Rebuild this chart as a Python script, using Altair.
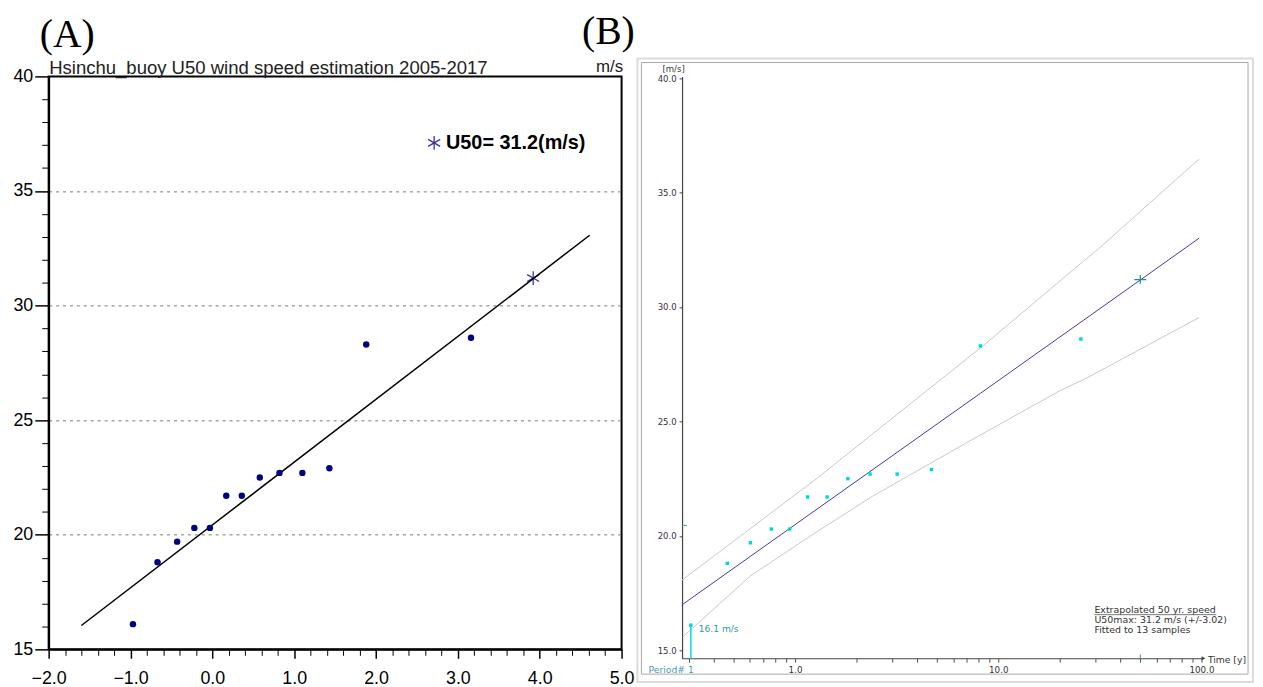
import altair as alt
import pandas as pd

# ---------------- Panel A: Gumbel reduced variate vs annual maximum ----------------
reduced_variate = [-0.97, -0.67, -0.43, -0.22, -0.03, 0.17, 0.36, 0.58, 0.82, 1.10, 1.43, 1.88, 3.16]
annual_max_speed = [16.1, 18.8, 19.7, 20.3, 20.3, 21.7, 21.7, 22.5, 22.7, 22.7, 22.9, 28.3, 28.6]
fit_a_variate = [-1.60, 4.61]
fit_a_speed = [16.04, 33.07]
u50_variate = [3.92]
u50_speed = [31.2]
legend_variate = [2.71]
legend_speed = [37.1]
legend_label = ["U50= 31.2(m/s)"]
a_title = "Hsinchu_buoy U50 wind speed estimation 2005-2017"
a_major_x = [-2, -1, 0, 1, 2, 3, 4, 5]
a_minor_x = [-1.8, -1.6, -1.4, -1.2, -0.8, -0.6, -0.4, -0.2, 0.2, 0.4, 0.6, 0.8,
             1.2, 1.4, 1.6, 1.8, 2.2, 2.4, 2.6, 2.8, 3.2, 3.4, 3.6, 3.8, 4.2, 4.4, 4.6, 4.8]
a_major_y = [15, 20, 25, 30, 35, 40]
a_minor_y = [16, 17, 18, 19, 21, 22, 23, 24, 26, 27, 28, 29, 31, 32, 33, 34, 36, 37, 38, 39]
a_grid_y = [20, 25, 30, 35]

# ---------------- Panel B: return period (log) vs speed ----------------
return_period = [0.307, 0.464, 0.603, 0.764, 0.942, 1.153, 1.438, 1.820, 2.340, 3.180, 4.69, 8.17, 25.5]
fit_b_period = [0.277, 1.25, 8.17, 50.0, 97.5]
fit_b_speed = [16.98, 21.10, 26.23, 31.18, 33.01]
upper_period = [0.277, 1.25, 8.17, 23.2, 31.1, 97.5]
upper_speed = [18.06, 22.44, 28.21, 31.60, 32.54, 36.47]
lower_period = [0.280, 0.603, 1.25, 2.38, 7.55, 20.0, 27.4, 97.5]
lower_speed = [15.58, 18.25, 20.12, 21.71, 24.24, 26.33, 26.91, 29.54]
u50_period = [50.0]
mean_speed_marker = [20.46]
axis_end_period = [100.0]
b_ticks_x = [0.3, 0.4, 0.5, 0.6, 0.7, 0.8, 0.9, 1, 2, 3, 4, 5, 6, 7, 8, 9,
             10, 20, 30, 40, 50, 60, 70, 80, 90, 100]
b_ticks_y = [15, 20, 25, 30, 35, 40]
period_label = ["Period# 1"]
min_label = ["16.1 m/s"]
info_text = "Extrapolated 50 yr. speed\nU50max: 31.2 m/s (+/-3.02)\nFitted to 13 samples"

ASTER = "M0,-1L0,1M-0.87,-0.5L0.87,0.5M-0.87,0.5L0.87,-0.5"
CROSS = "M-1,0L1,0M0,-0.7L0,0.7"
FA = "Liberation Sans"
FB = "DejaVu Sans"

# ======================= PANEL A =======================
WA, HA = 578, 578
xa = alt.Scale(domain=[-2, 5], nice=False, zero=False)
ya = alt.Scale(domain=[15, 40], nice=False, zero=False)

df_pts = pd.DataFrame({"u": reduced_variate, "speed": annual_max_speed})
df_fit_a = pd.DataFrame({"u": fit_a_variate, "speed": fit_a_speed})
df_u50 = pd.DataFrame({"u": u50_variate, "speed": u50_speed})
df_leg = pd.DataFrame({"u": legend_variate, "speed": legend_speed, "label": legend_label})

x_major = alt.Axis(orient="bottom", values=a_major_x, format=".1f", labelFont=FA, labelFontSize=18,
                   labelColor="black", tickSize=9, tickWidth=1.5, tickColor="black",
                   domainColor="black", domainWidth=2, labelPadding=11, grid=False, title=None,
                   labelFlush=False, labelOverlap=False)
x_minor = alt.Axis(orient="bottom", values=a_minor_x, labels=False, tickSize=6, tickWidth=1,
                   tickColor="black", domain=False, grid=False, title=None)
y_major = alt.Axis(orient="left", values=a_major_y, format="d", labelFont=FA, labelFontSize=18,
                   labelColor="black", tickSize=14, tickWidth=1.5, tickColor="black",
                   domainColor="black", domainWidth=2, labelPadding=2, grid=False,
                   labelFlush=False, labelOverlap=False,
                   title="m/s", titleAngle=0, titleX=579, titleY=-10, titleAlign="right",
                   titleBaseline="middle", titleFont=FA, titleFontSize=17, titleFontWeight="normal",
                   titleColor="#222")
y_minor = alt.Axis(orient="left", values=a_minor_y, labels=False, tickSize=7, tickWidth=1,
                   tickColor="black", domain=False, grid=False, title=None)
y_grid = alt.Axis(orient="left", values=a_grid_y, labels=False, ticks=False, domain=False,
                  grid=True, gridDash=[3, 4], gridColor="#777777", gridWidth=1, title=None)
x_top = alt.Axis(orient="top", labels=False, ticks=False, domain=False, grid=False,
                 title=a_title, titleX=0, titleY=-3, titleAlign="left", titleBaseline="alphabetic",
                 titleFont=FA, titleFontSize=18.7, titleFontWeight="normal", titleColor="#222")

grid_a = alt.Chart(df_u50).mark_point(shape=ASTER, size=196, filled=False, color="#3535a5",
                                      strokeWidth=1.3, opacity=1).encode(
    x=alt.X("u:Q", scale=xa, axis=x_top),
    y=alt.Y("speed:Q", scale=ya, axis=y_grid),
)
line_a = alt.Chart(df_fit_a).mark_line(color="black", strokeWidth=1.5).encode(
    x=alt.X("u:Q", scale=xa, axis=x_minor),
    y=alt.Y("speed:Q", scale=ya, axis=y_minor),
)
pts_a = alt.Chart(df_pts).mark_circle(size=42, color="#000080", opacity=1).encode(
    x=alt.X("u:Q", scale=xa, axis=x_major),
    y=alt.Y("speed:Q", scale=ya, axis=y_major),
)
leg_star = alt.Chart(df_leg).mark_point(shape=ASTER, size=196, filled=False, color="#3535a5",
                                        strokeWidth=1.3, opacity=1).encode(
    x=alt.X("u:Q", scale=xa, axis=None),
    y=alt.Y("speed:Q", scale=ya, axis=None),
)
leg_text = alt.Chart(df_leg).mark_text(align="left", baseline="middle", dx=12, font=FA, fontSize=20,
                                       fontWeight="bold", color="black").encode(
    x=alt.X("u:Q", scale=xa, axis=None),
    y=alt.Y("speed:Q", scale=ya, axis=None),
    text="label:N",
)

panel_a = alt.layer(grid_a, line_a, pts_a, leg_star, leg_text).resolve_axis(
    x="independent", y="independent"
).properties(
    width=WA, height=HA,
    view=alt.ViewBackground(stroke="black", strokeWidth=2),
    title=alt.TitleParams("(A)", anchor="start", frame="group", dx=-9, font="Liberation Serif",
                          fontSize=40, fontWeight="normal", color="black", offset=2.5),
)

# ======================= PANEL B =======================
WB, HB = 524, 587
xb = alt.Scale(type="log", domain=[0.278, 100], nice=False)
yb = alt.Scale(domain=[14.654, 40.074], nice=False, zero=False)

df_b_pts = pd.DataFrame({"T": return_period, "speed": annual_max_speed})
df_fit_b = pd.DataFrame({"T": fit_b_period, "speed": fit_b_speed})
df_up = pd.DataFrame({"T": upper_period, "speed": upper_speed})
df_lo = pd.DataFrame({"T": lower_period, "speed": lower_speed})
df_cross = pd.DataFrame({"T": u50_period, "speed": u50_speed})
df_first = pd.DataFrame({"T": return_period[:1], "speed": annual_max_speed[:1],
                         "lab": min_label, "per": period_label})
df_mean = pd.DataFrame({"speed": mean_speed_marker})
df_end = pd.DataFrame({"T": axis_end_period})
df_one = pd.DataFrame({"info": [info_text]})

xb_axis = alt.Axis(orient="bottom", values=b_ticks_x,
                   labelExpr="indexof([1, 10, 100], datum.value) >= 0 ? format(datum.value, '.1f') : ''",
                   tickSize=4, tickColor="#555555", domainColor="#444444", domainWidth=1.2,
                   labelFont=FB, labelFontSize=8.8, labelColor="#333333", labelPadding=3,
                   grid=False, labelFlush=False, labelOverlap=False,
                   title="Time [y]", titleX=530, titleY=1, titleAlign="left", titleBaseline="middle",
                   titleFont=FB, titleFontSize=9.3, titleFontWeight="normal", titleColor="#333333")
yb_axis = alt.Axis(orient="left", values=b_ticks_y, format=".1f", tickSize=3, tickColor="#444444",
                   domainColor="#444444", domainWidth=1.2, labelFont=FB, labelFontSize=8.6,
                   labelColor="#3a3048", labelPadding=3, grid=False, labelFlush=False,
                   labelOverlap=False,
                   title="[m/s]", titleAngle=0, titleX=-9, titleY=-8, titleAlign="center",
                   titleBaseline="middle", titleFont=FB, titleFontSize=8.6, titleFontWeight="normal",
                   titleColor="#333333")

XB = alt.X("T:Q", scale=xb, axis=xb_axis)
YB = alt.Y("speed:Q", scale=yb, axis=yb_axis)

fit_b = alt.Chart(df_fit_b).mark_line(color="#3c3ca8", strokeWidth=1).encode(x=XB, y=YB)
up_b = alt.Chart(df_up).mark_line(color="#c8c8c8", strokeWidth=1).encode(x=XB, y=YB)
lo_b = alt.Chart(df_lo).mark_line(color="#c8c8c8", strokeWidth=1).encode(x=XB, y=YB)
first_rule = alt.Chart(df_first).mark_rule(color="#00e0ea", strokeWidth=1.5).encode(
    x=XB, y=YB, y2=alt.value(HB))
pts_b = alt.Chart(df_b_pts).mark_square(size=12, color="#00d6e0", opacity=1).encode(x=XB, y=YB)
cross_b = alt.Chart(df_cross).mark_point(shape=CROSS, size=144, filled=False, color="#2a8a9a",
                                         strokeWidth=1.3, opacity=1).encode(x=XB, y=YB)
min_text = alt.Chart(df_first).mark_text(align="left", baseline="middle", dx=8, dy=4, font=FB,
                                         fontSize=9.2, color="#2a9aaa").encode(
    x=XB, y=YB, text="lab:N")
per_text = alt.Chart(df_first).mark_text(align="right", baseline="middle", dx=3, font=FB,
                                         fontSize=9.3, color="#4a9ab5").encode(
    x=XB, y=alt.value(HB + 12), text="per:N")
mean_tick = alt.Chart(df_mean).mark_rule(color="#3a9aa0", strokeWidth=1).encode(
    y=YB, x=alt.value(0), x2=alt.value(5))
u50_tick = alt.Chart(df_cross).mark_rule(color="#3a9aa0", strokeWidth=1).encode(
    x=XB, y=alt.value(HB - 4), y2=alt.value(HB))
arrow = alt.Chart(df_end).mark_point(shape="triangle-right", size=18, filled=True, color="#444444",
                                     opacity=1, xOffset=2).encode(x=XB, y=alt.value(HB))
frame_outer = alt.Chart(df_one).mark_rect(fillOpacity=0, stroke="#dcdcdc", strokeWidth=2).encode(
    x=alt.value(-45), x2=alt.value(576), y=alt.value(-18), y2=alt.value(611))
frame_inner = alt.Chart(df_one).mark_rect(fillOpacity=0, stroke="#a8a8a8", strokeWidth=1).encode(
    x=alt.value(-41), x2=alt.value(571), y=alt.value(-14), y2=alt.value(603))
info = alt.Chart(df_one).mark_text(align="left", baseline="top", font=FB, fontSize=9.5,
                                   color="#333333", lineBreak="\n", lineHeight=10.5).encode(
    x=alt.value(416), y=alt.value(533), text="info:N")
underline = alt.Chart(df_one).mark_rule(color="#555555", strokeWidth=0.8).encode(
    x=alt.value(416), x2=alt.value(539), y=alt.value(543))

panel_b = alt.layer(fit_b, up_b, lo_b, first_rule, pts_b, cross_b, min_text, per_text,
                    mean_tick, u50_tick, arrow, frame_outer, frame_inner, info, underline).properties(
    width=WB, height=HB,
    view=alt.ViewBackground(stroke="transparent"),
    title=alt.TitleParams("(B)", anchor="start", frame="group", dx=-101, font="Liberation Serif",
                          fontSize=40, fontWeight="normal", color="black", offset=6),
)

chart = alt.hconcat(panel_a, panel_b, spacing=61, bounds="flush",
                    padding={"left": 3, "top": 0, "right": 0, "bottom": 0}).configure(
    background="white")

chart.save("out.html", embed_options={"renderer": "svg", "actions": False})
